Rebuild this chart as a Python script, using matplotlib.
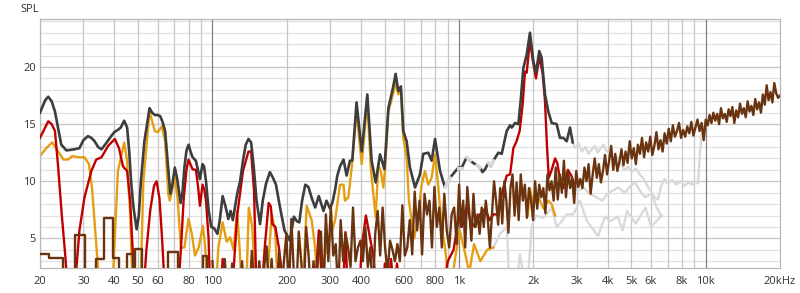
import numpy as np
import matplotlib
matplotlib.use("Agg")
import matplotlib.pyplot as plt

plt.rcParams['font.family'] = ['Open Sans', 'DejaVu Sans']

# ------------------------
# eixos
# ------------------------
x_ticks = [20, 30, 40, 50, 60, 80, 100, 200, 300, 400, 600, 800,
           1000, 2000, 3000, 4000, 5000, 6000, 8000, 10000, 20000]
x_labels = ['20', '30', '40', '50', '60', '80', '100', '200', '300', '400', '600', '800',
            '1k', '2k', '3k', '4k', '5k', '6k', '8k', '10k', '20kHz']
y_ticks = [5, 10, 15, 20]

# ------------------------
# curva soma (cinza escuro)
# ------------------------
sum_freq = [20, 21.0, 21.6, 22.3, 23.0, 23.7, 24.4, 25.6, 26.5, 27.6, 28.9, 30.0, 31.3, 32.3,
            33.3, 34.4, 35.5, 37.0, 38.4, 40.0, 41.4, 42.5, 43.9, 45.1, 46.0, 46.8, 47.8, 49.3,
            50.3, 51.3, 53.0, 55.6, 57.0, 58.4, 60.0, 61.4, 62.8, 64.3, 65.8, 67.5, 68.8, 70.4,
            72.0, 74.3, 75.6, 77.0, 78.5, 80.1, 81.5, 83.1, 85.7, 87.3, 89.0, 91.2, 92.5, 94.2,
            96.5, 98.9, 101.5, 104.8, 107, 110, 113, 116, 118.5, 121, 124, 126, 129.5, 133,
            136.5, 140, 143.5, 147, 151, 156, 160, 165, 171, 176, 181, 188, 196, 206, 214, 220,
            225, 231, 238, 245, 253, 261, 270, 282, 290, 300, 307, 314, 321, 329, 340, 350, 361,
            369, 384, 403, 424.6, 442, 459, 478, 498, 517, 541, 553, 567, 581, 594, 613, 632,
            663, 694, 716, 750, 774, 799, 837, 877, 919, 960, 993, 1025, 1057, 1074, 1110, 1142,
            1180, 1216, 1245, 1274, 1314, 1345, 1377, 1443, 1489, 1560, 1609, 1635, 1686, 1739,
            1780, 1822, 1880, 1938, 2000, 2050, 2114, 2162, 2230, 2300, 2374, 2487, 2565, 2646,
            2731, 2817, 2888]
sum_spl = [16.0, 17.1, 17.4, 17.0, 16.1, 14.6, 13.2, 12.7, 12.75, 12.8, 12.9, 13.6, 13.95, 13.8,
           13.5, 13.0, 12.8, 13.3, 13.8, 14.3, 14.5, 14.7, 15.3, 14.7, 12.6, 10.0, 7.8, 5.8,
           7.0, 10.0, 13.5, 16.4, 16.0, 15.8, 15.8, 15.7, 15.2, 14.4, 11.8, 8.9, 9.7, 11.2,
           10.2, 8.1, 9.0, 11.2, 12.7, 13.2, 12.6, 12.1, 11.8, 11.0, 10.2, 11.5, 11.3, 10.0,
           7.5, 6.0, 5.9, 5.4, 6.5, 8.7, 7.8, 6.7, 7.4, 6.6, 8.0, 8.9, 10.0, 11.8,
           13.2, 13.7, 13.4, 11.3, 8.3, 6.25, 8.3, 9.8, 10.8, 10.3, 9.7, 7.7, 5.7, 4.8, 6.9, 6.5,
           6.4, 8.3, 9.7, 9.5, 8.5, 7.7, 8.7, 7.4, 8.3, 7.6, 8.2, 9.2, 10.5, 11.3, 11.9, 10.5, 11.8,
           11.8, 16.9, 12.6, 17.6, 11.8, 9.9, 12.35, 11.05, 16.4, 18.3, 19.4, 17.9, 18.3, 14.4, 13.5, 11.2,
           9.45, 10.6, 12.4, 12.5, 11.8, 13.7, 10.9, 9.45, 10.3, 10.8, 11.2, 11.2, 11.8, 12.1, 11.8, 11.6,
           11.4, 11.2, 10.8, 11.05, 11.6, 11.3, 11.8, 12.5, 12.4, 14.4, 14.9, 14.7, 15.1, 15.0,
           17.2, 19.9, 21.1, 23.0, 20.5, 19.5, 21.4, 20.8, 17.6, 16.1, 15.1, 15.0, 13.8, 13.8,
           13.5, 14.7, 13.4]
# trechos em que a soma aparece esmaecida
sum_dim_ranges = [(877, 919), (993, 1025), (1074, 1110), (1180, 1216), (1314, 1377)]

# continuação esmaecida da soma
sum_dim_freq = [2888, 2950, 3050, 3150, 3250, 3350, 3450, 3550, 3650, 3750, 3850, 3950, 4100,
                4250, 4400, 4550, 4700, 4850, 5000, 5200, 5400, 5600, 5800, 6000, 6200, 6400,
                6600, 6800, 7000, 7300, 7600, 7900, 8200, 8500, 8800, 9100, 9300, 9500, 9700, 9900]
sum_dim_spl = [13.4, 12.9, 13.3, 12.6, 13.0, 12.4, 12.8, 13.1, 12.5, 12.9, 13.2, 12.7, 12.4,
               11.8, 12.1, 11.4, 11.0, 11.3, 10.8, 11.1, 10.6, 10.2, 9.6, 9.1, 8.6, 8.4,
               9.6, 10.2, 9.8, 10.1, 9.7, 10.0, 9.6, 9.9, 9.7, 10.0, 9.8, 12.8, 14.8, 15.1]

# ------------------------
# curva vermelha
# ------------------------
red_freq = [20, 21.6, 22.3, 23.0, 23.7, 24.5, 25.3, 26.0, 27.5, 28.0, 28.9, 30.3, 32.3, 33.8,
            35.5, 37.8, 40.2, 41.8, 43.4, 45.1, 46.4, 47.5, 48.4, 52.4, 54.0, 56.0, 58.0, 59.4,
            61.0, 62.5, 64.3, 72.4, 74.5, 76.5, 78.5, 80.0, 81.8, 83.1, 85.7, 87.5, 89.0, 91.2,
            92.7, 94.2, 96.5, 98.0, 108, 110, 112, 120, 126, 133, 140, 143.5, 147.5, 151, 158,
            163, 169, 172.5, 175, 180, 186, 196, 260, 270, 280, 338, 346, 354, 393, 403, 419,
            448, 466, 490, 500, 515, 530, 545, 560, 580, 850, 900, 950, 1000, 1025, 1074, 1110,
            1160, 1216, 1274, 1330, 1377, 1443, 1489, 1525, 1560, 1610, 1660, 1710, 1760, 1810,
            1850, 1880, 1938, 1980, 2050, 2114, 2180, 2230, 2270, 2310, 2374, 2450, 2500, 2565,
            2646, 2760, 2850, 2920]
red_spl = [13.8, 15.25, 15.0, 14.4, 11.2, 7.1, 3.6, 0, 0, 2.0, 5.7, 8.6, 10.9, 11.9,
           12.1, 13.1, 13.7, 12.9, 11.3, 10.9, 8.3, 4.0, 0, 0, 4.0, 7.5, 9.6, 10.0,
           8.5, 5.0, 0, 0, 4.0, 8.5, 11.0, 11.9, 11.4, 11.05, 11.0, 9.5, 7.85, 9.7,
           9.3, 8.3, 5.0, 0, 0, 3.2, 0, 0, 7.0, 10.9, 12.6, 12.6, 9.15, 0, 0,
           4.2, 8.1, 7.8, 6.25, 6.0, 4.2, 0, 0, 5.7, 0, 0, 5.55, 0, 0, 4.2, 7.0,
           3.6, 0, 0, 2.8, 0, 3.2, 0, 2.8, 0, 0, 3.0, 4.0, 7.0, 6.0, 7.85, 6.6,
           6.0, 7.1, 7.6, 6.6, 7.1, 7.1, 8.9, 9.7, 10.5, 10.6, 12.9, 13.5, 14.4, 16.7,
           19.6, 19.5, 22.4, 20.9, 19.0, 20.9, 19.5, 17.0, 13.2, 10.3, 11.0, 12.0, 11.6, 10.2,
           9.4, 11.0, 10.5, 9.8]

red_dim_freq = [2920, 3050, 3200, 3400, 3600, 3800, 4000, 4200, 4420, 4700, 4950, 5170,
                5400, 5670, 6030, 6300, 6627]
red_dim_spl = [9.8, 9.2, 9.45, 8.9, 8.6, 8.3, 8.9, 9.2, 9.45, 9.0, 9.6, 9.9,
               9.2, 8.6, 8.9, 7.8, 6.9]

# ------------------------
# curva laranja
# ------------------------
orange_freq = [20, 21.2, 22.4, 23.7, 24.9, 26.0, 27.0, 28.7, 30.3, 31.6, 32.5, 33.4, 34.5, 35.0,
               39.0, 39.6, 41.4, 43.9, 45.1, 46.4, 47.6, 51.0, 52.5, 55.6, 58.4, 60.0, 62.4,
               64.3, 66.2, 67.2, 70.4, 72.2, 74.5, 77.0, 80.0, 82.5, 85.0, 88.0, 91.5, 93.5,
               96.0, 103, 105.7, 110, 114.3, 118, 121.9, 125.9, 129, 132, 137, 140.4, 145, 150,
               165, 174, 179.5, 185, 232, 241, 252.5, 260.8, 269, 279, 285.6, 299.6, 314.4, 329,
               340, 344.7, 355.7, 367, 384, 403, 424.6, 439.5, 459, 470.5, 482.4, 493, 500.6, 517,
               541, 553, 567, 581, 594, 613, 626, 642, 658, 683, 705, 727.5, 750, 774, 799, 824,
               850, 877, 919, 960, 1006, 1050, 1100, 1150, 1220, 1300, 1377]
orange_spl = [12.2, 12.9, 13.4, 12.6, 11.9, 11.9, 12.2, 12.1, 12.1, 11.5, 9.45, 6.0, 2.0, 0,
              0, 2.0, 10.9, 13.4, 11.8, 7.1, 0, 0, 10.0, 16.1, 14.4, 14.3, 14.8,
              13.5, 8.9, 8.3, 10.3, 8.6, 4.2, 4.2, 6.7, 5.4, 3.5, 4.2, 6.1, 4.2,
              0, 0, 4.2, 6.4, 4.7, 5.1, 4.0, 7.4, 4.0, 0, 0, 7.7, 6.0, 0,
              0, 7.1, 5.7, 0, 0, 7.85, 6.6, 4.2, 0, 0, 3.5, 5.0, 6.6, 9.7,
              9.7, 8.3, 8.6, 11.2, 16.1, 11.5, 17.0, 10.9, 6.85, 11.5, 10.8, 9.45, 10.9, 16.1,
              17.7, 18.6, 17.6, 18.0, 13.8, 12.1, 8.3, 6.55, 5.0, 7.1, 9.7, 10.9, 9.7, 10.3, 12.35, 9.45,
              6.0, 4.2, 0, 3.0, 5.7, 4.0, 2.0, 4.5, 3.0, 4.0, 4.2]
orange2_freq = [1900, 1938, 2000, 2100, 2200, 2300, 2374, 2450]
orange2_spl = [7.0, 9.4, 8.0, 8.6, 7.6, 8.3, 8.0, 7.0]

orange_dim_freq = [1377, 1466, 1560, 1609, 1686, 1766, 1880, 1969, 2050, 2200, 2374, 2487,
                   2565, 2731, 2904, 3092, 3292, 3660, 3900, 4100, 4400, 4600, 4800, 5200,
                   5700, 6000, 6627]
orange_dim_spl = [4.2, 5.4, 6.0, 0, 0, 3.6, 0, 6.0, 7.0, 6.8, 7.7, 6.0,
                  6.3, 7.1, 7.1, 8.3, 6.55, 5.2, 6.9, 6.5, 6.9, 5.7, 7.4, 6.3,
                  7.7, 6.0, 7.0]

# ------------------------
# curva marrom
# ------------------------
brown_step_freq = [20, 21.7, 24.7, 27.8, 30.4, 33.6, 36.5, 39.6, 41.8, 45.0, 47.5, 48.6,
                   51.8, 66.0, 72.3, 91.5, 95.5, 100]
brown_step_spl = [3.6, 3.25, 0, 5.3, 0, 3.2, 6.8, 3.25, 0, 3.6, 0, 4.1,
                  0, 3.8, 0, 3.5, 0, 0]

brown_mid = [3.0, 0, 2.0, 0, 0, 3.2, 0, 0, 2.8, 0,
             0, 0, 3.0, 0, 0, 0, 3.9, 0, 0, 3.0,
             0, 2.5, 4.3, 0, 3.2, 0, 0, 3.8, 0, 3.0,
             5.4, 0, 6.7, 2.0, 0, 5.6, 3.0, 0, 6.0, 3.5,
             0, 3.0, 0, 4.0, 5.6, 0, 7.1, 3.0, 7.8, 3.5,
             4.5, 0, 6.6, 3.0, 5.4, 4.2, 2.5, 7.7, 3.0, 4.2,
             4.8, 3.0, 6.0, 2.5, 4.2, 0, 5.4, 7.4, 3.5, 7.7,
             4.2, 2.0, 4.8, 4.0, 3.0, 4.5, 3.0, 7.9, 3.5, 4.2,
             6.6, 3.6, 9.1, 5.7, 8.3, 3.6, 8.9, 7.1, 8.3, 4.2,
             9.5, 6.0, 7.7, 4.2, 8.9, 5.7, 4.2, 7.1, 7.7, 4.5]
brown_hi = [9.7, 6.0, 8.3, 4.2, 9.5, 7.1, 4.8, 8.9, 6.0, 7.1,
            5.4, 7.7, 6.0, 8.3, 6.6, 4.2, 7.1, 10.0, 8.3, 6.2,
            9.4, 6.3, 10.0, 8.3, 5.5, 9.4, 10.6, 7.0, 9.9, 6.6,
            10.6, 8.3, 9.7, 6.8, 9.4, 8.3, 6.6, 10.0, 7.6, 9.7,
            8.6, 9.4, 7.2, 10.6, 9.2, 10.0, 8.3, 11.2, 8.4, 10.6,
            9.0, 11.8, 8.6, 10.9, 9.4, 10.3, 8.1, 10.9, 9.5, 10.2,
            9.4, 11.2, 10.0, 11.5, 8.9, 10.6, 12.0, 10.3, 11.5, 9.9,
            10.9, 12.3, 10.6, 11.8, 13.1, 11.0, 12.4, 10.9, 11.7, 12.8,
            11.4, 12.6, 11.6, 13.5, 12.0, 12.9, 11.5, 13.2, 12.4, 13.8,
            12.1, 13.4, 12.6, 13.9, 12.3, 13.1, 14.3, 12.8, 13.6, 12.6,
            14.2, 13.3, 14.6, 13.5, 14.9, 13.9, 14.4, 15.1, 13.8, 14.5,
            13.9, 14.8, 14.2, 15.2, 14.0, 14.7, 15.4, 14.4, 15.1, 13.6]
brown_top = [15.4, 14.9, 15.8, 15.1, 16.0, 15.3, 15.9, 15.0, 16.4, 15.5,
             15.9, 15.2, 16.3, 15.7, 16.5, 15.1, 16.2, 15.6, 16.8, 15.9,
             16.4, 15.6, 17.0, 16.1, 16.6, 15.8, 17.2, 16.3, 16.9, 16.0,
             17.6, 16.7, 18.4, 17.1, 17.8, 16.9, 18.6, 17.7, 17.3, 17.5]

# grade de frequência do trecho ruidoso
brown_freq = np.concatenate([np.geomspace(100, 1000, len(brown_mid), endpoint=False),
                             np.geomspace(1000, 10000, len(brown_hi), endpoint=False),
                             np.geomspace(10000, 20000, len(brown_top))])
brown_spl = np.array(brown_mid + brown_hi + brown_top)

# ------------------------
# cores
# ------------------------
c_sum = '#3d3d3d'
c_red = '#c00000'
c_orange = '#e59e12'
c_brown = '#6b3410'
c_dim = '#d9d9d9'

fig = plt.figure(figsize=(8, 2.93), dpi=100)
ax = fig.add_axes([0.05, 0.087, 0.925, 0.848])
ax.set_xscale('log')
ax.set_xlim(20, 20000)
ax.set_ylim(2.45, 24.2)

# grade
for dec in [10, 100, 1000]:
    for m in range(1, 10):
        f = m * dec
        if f < 20 or f > 20000:
            continue
        major = (m == 1)
        ax.axvline(f, color='#808080' if major else '#c6c6c6', lw=0.9, zorder=0.5)
ax.axvline(10000, color='#808080', lw=0.9, zorder=0.5)
for v in range(3, 25):
    ax.axhline(v, color='#c6c6c6' if v % 5 == 0 else '#e1e1e1', lw=0.9, zorder=0.4)

lw = 1.7
# curvas esmaecidas (fundo)
ax.plot(orange_dim_freq, orange_dim_spl, color=c_dim, lw=lw, zorder=1.5)
ax.plot(red_dim_freq, red_dim_spl, color=c_dim, lw=lw, zorder=1.5)
ax.plot(sum_dim_freq, sum_dim_spl, color=c_dim, lw=lw, zorder=1.5)

ax.plot(orange_freq, orange_spl, color=c_orange, lw=lw, zorder=2)
ax.plot(orange2_freq, orange2_spl, color=c_orange, lw=lw, zorder=2)
ax.plot(red_freq, red_spl, color=c_red, lw=lw, zorder=3)
ax.plot(sum_freq, sum_spl, color=c_sum, lw=lw + 0.2, zorder=4)

# trechos esmaecidos da soma
sf = np.array(sum_freq)
ss = np.array(sum_spl)
for lo, hi in sum_dim_ranges:
    m = (sf >= lo) & (sf <= hi)
    ax.plot(sf[m], ss[m], color=c_dim, lw=lw + 0.6, zorder=4.5)

ax.plot(brown_step_freq, brown_step_spl, color=c_brown, lw=lw, drawstyle='steps-post', zorder=5)
ax.plot(brown_freq, brown_spl, color=c_brown, lw=lw, zorder=5)

# ticks e rótulos
ax.set_xticks(x_ticks)
ax.set_xticklabels(x_labels)
ax.xaxis.set_minor_locator(matplotlib.ticker.NullLocator())
ax.set_yticks(y_ticks)
ax.set_yticklabels([str(v) for v in y_ticks])
ax.tick_params(axis='both', length=0, labelsize=8, labelcolor='#303030')
ax.tick_params(axis='x', pad=6)
ax.tick_params(axis='y', pad=3)
for s in ax.spines.values():
    s.set_color('#b8b8b8')
    s.set_linewidth(0.9)

fig.text(20 / 800, 1 - 4 / 293, 'SPL', fontsize=8, color='#303030', ha='left', va='top')

fig.savefig('out.png', dpi=100)
